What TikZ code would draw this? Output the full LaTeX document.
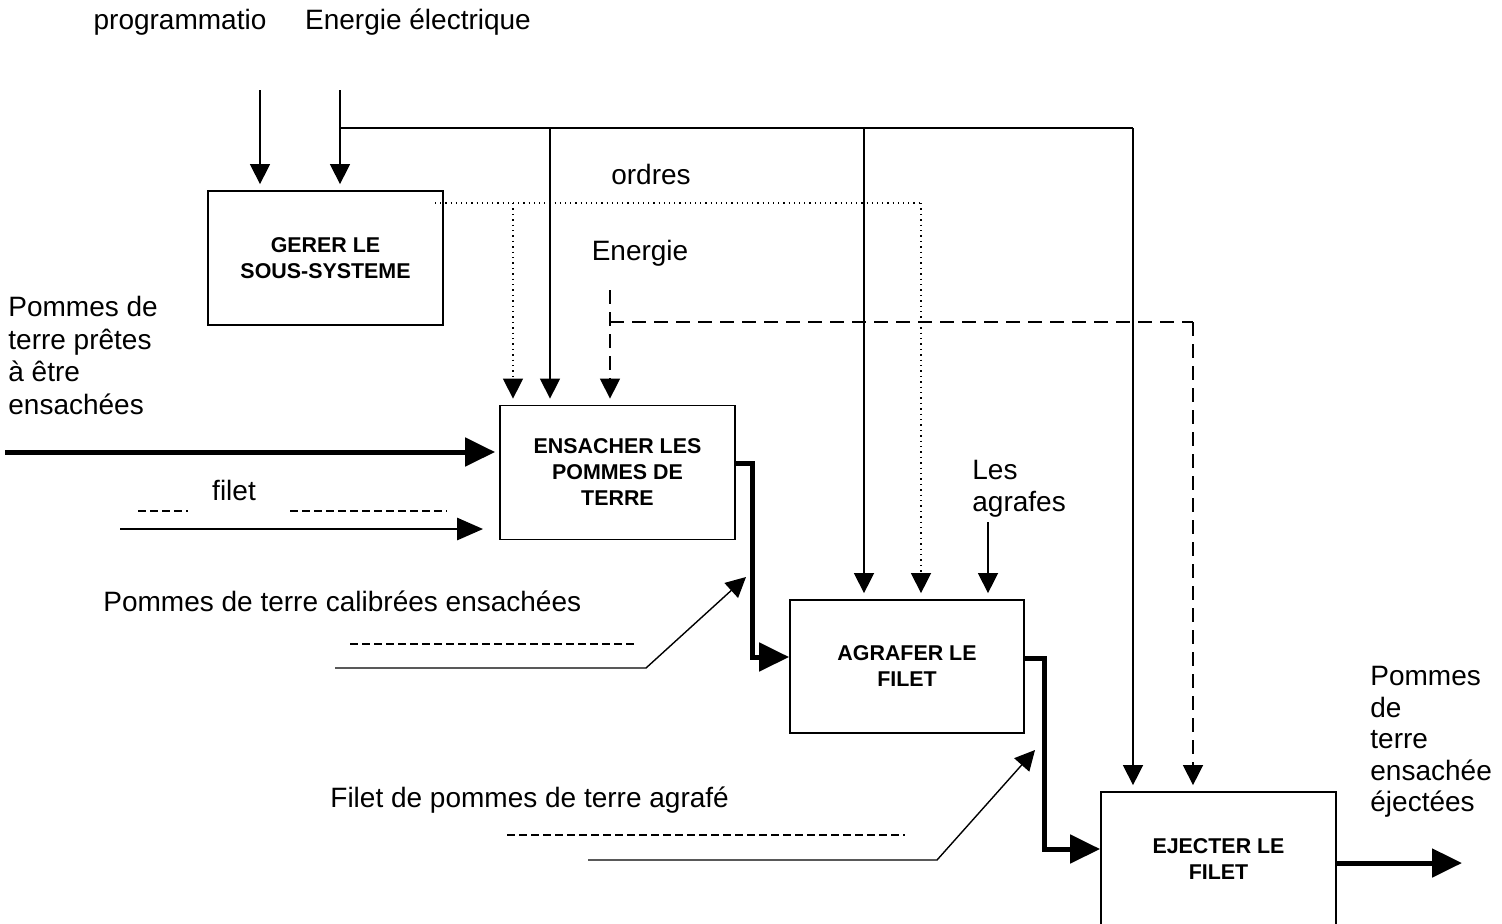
\documentclass[tikz,border=0pt]{standalone}
\usepackage{fontspec}
\setmainfont{Liberation Sans}
\usetikzlibrary{arrows.meta,calc}
\begin{document}
\begin{tikzpicture}[x=0.5pt,y=-0.5pt,
  fonction/.style={draw, line width=0.9pt, minimum width=117.5pt, minimum height=67pt, inner sep=0pt, align=center, font=\bfseries\fontsize{10.7}{13}\selectfont},
  etiq/.style={font=\fontsize{14}{16.3}\selectfont, inner sep=0pt},
  fleche/.style={line width=0.7pt, -{Triangle[length=10pt,width=10pt]}, shorten >=3pt},
  flux/.style={line width=2.5pt, -{Triangle[length=15pt,width=14pt]}},
  fluxfilet/.style={line width=1.4pt, -{Triangle[length=13pt,width=11pt]}},
  ordre/.style={dotted, line width=0.6pt},
  energie/.style={dash pattern=on 7pt off 4pt, line width=0.7pt},
  tirets/.style={dash pattern=on 4pt off 2pt, line width=0.6pt}]
\useasboundingbox (0,0) rectangle (1502,923);
\clip (0,0) rectangle (1502,923);

\node[fonction] (gerer) at (325.5,258) {GERER LE\\SOUS-SYSTEME};
\node[fonction] (ensacher) at (617.5,472.5) {ENSACHER LES\\POMMES DE\\TERRE};
\node[fonction, minimum width=117pt, minimum height=66.5pt] (agrafer) at (907,666.5) {AGRAFER LE\\FILET};
\node[fonction] (ejecter) at (1218.5,859) {EJECTER LE\\FILET};

\node[etiq] (prog) at (180,22) {programmatio};
\node[etiq] (elec) at (418,22) {Energie électrique};
\node[etiq] (ordres) at (651,174) {ordres};
\node[etiq] (energie) at (640,253) {Energie};
\node[etiq, align=left, anchor=north west, font=\fontsize{14}{16}\selectfont] (agrafes) at (972,460) {Les\\agrafes};
\node[etiq, align=left, anchor=north west] (pdt) at (8,296) {Pommes de\\terre prêtes\\à être\\ensachées};
\node[etiq] (filet) at (234,490) {filet};
\node[etiq, anchor=west] (calib) at (103,601) {Pommes de terre calibrées ensachées};
\node[etiq, anchor=west] (filetagr) at (330,800) {Filet de pommes de terre agrafé};
\node[etiq, align=left, anchor=north west, font=\fontsize{14}{15.75}\selectfont] (sortielbl) at (1370,666) {Pommes\\de\\terre\\ensachée\\éjectées};

\coordinate (prog-in) at (260,90);
\coordinate (elec-in) at (340,90);
\coordinate (bus) at (340,128);
\coordinate (e-ens) at (550,128);
\coordinate (e-agr) at (864,128);
\coordinate (e-ej) at (1133,128);
\coordinate (o-start) at (435,203);
\coordinate (o-ens) at (513,203);
\coordinate (o-agr) at (921,203);
\coordinate (en-in) at (610,290);
\coordinate (en-k) at (610,322);
\coordinate (en-ej) at (1193,322);
\coordinate (ag-in) at (988,522);
\coordinate (pdt-in) at (5,452);
\coordinate (filet-in) at (120,529);
\coordinate (cal-in) at (335,668);
\coordinate (cal-k) at (646,668);
\coordinate (cal-out) at (746,577);
\coordinate (fa-in) at (588,860);
\coordinate (fa-k) at (937,860);
\coordinate (fa-out) at (1035,750);
\coordinate (sortie) at (1462,863);

\draw[fleche] (prog-in) -- (prog-in |- gerer.north);
\draw[fleche] (elec-in) -- (elec-in |- gerer.north);
\draw[line width=0.7pt] (bus) -- (e-ej);
\draw[fleche] (e-ens) -- (e-ens |- ensacher.north);
\draw[fleche] (e-agr) -- (e-agr |- agrafer.north);
\draw[fleche] (e-ej) -- (e-ej |- ejecter.north);

\draw[ordre] (o-start) -- (o-agr);
\draw[ordre, fleche] (o-ens) -- (o-ens |- ensacher.north);
\draw[ordre, fleche] (o-agr) -- (o-agr |- agrafer.north);

\draw[energie, fleche] (en-in) -- (en-in |- ensacher.north);
\draw[energie] (en-k) -- (en-ej);
\draw[energie, fleche] (en-ej) -- (en-ej |- ejecter.north);

\draw[fleche] (ag-in) -- (ag-in |- agrafer.north);

\draw[flux, shorten >=2pt] (pdt-in) -- (pdt-in -| ensacher.west);
\draw[fluxfilet, shorten >=8pt] (filet-in) -- (filet-in -| ensacher.west);
\draw[tirets] (138,511) -- (188,511);
\draw[tirets] (290,511) -- (447,511);

\draw[tirets] (350,644) -- (637,644);
\draw[fleche, shorten >=0pt] (cal-in) -- (cal-k) -- (cal-out);
\draw[tirets] (507,835) -- (905,835);
\draw[fleche, shorten >=0pt] (fa-in) -- (fa-k) -- (fa-out);

\draw[flux] ($(ensacher.east)+(0,-9.5)$) -- ++(17,0) |- ($(agrafer.west)+(0,-9.5)$);
\draw[flux] ($(agrafer.east)+(0,-8.5)$) -- ++(20,0) |- ($(ejecter.west)+(0,-10)$);
\draw[flux] ($(ejecter.east)+(0,4)$) -- (sortie);
\end{tikzpicture}
\end{document}
